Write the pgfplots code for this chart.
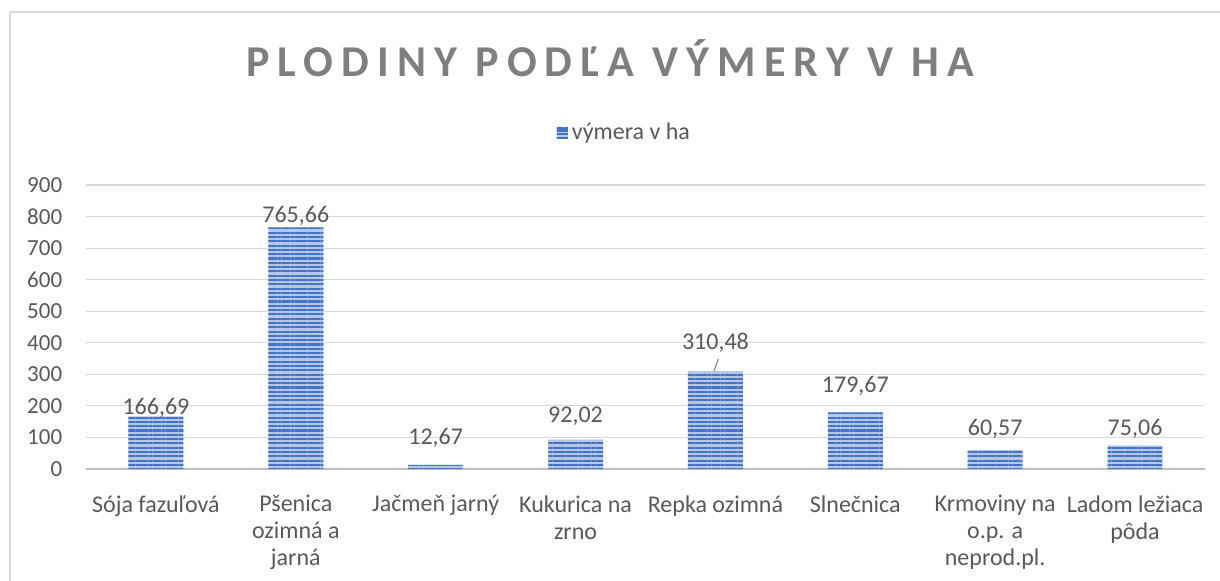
\documentclass[border=0pt]{standalone}
\usepackage{fontspec}
\setmainfont{Carlito}
\newfontfamily\titlefont[LetterSpace=18.5]{Carlito}
\usepackage{pgfplots}
\pgfplotsset{compat=1.18}
\usepackage{pgfplotstable}
\usetikzlibrary{patterns.meta}
\definecolor{txt}{HTML}{595959}
\definecolor{titlegray}{HTML}{7F7F7F}
\definecolor{gridgray}{HTML}{D9D9D9}
\definecolor{axisgray}{HTML}{BFBFBF}
\definecolor{barblue}{HTML}{4472C4}
\definecolor{barlight}{HTML}{B4C7E7}

\pgfplotstableread{
x y lab off
0 166.69 166,69 0.7
1 765.66 765,66 2.3
2 12.67 12,67 10
3 92.02 92,02 8.7
4 310.48 310,48 10.8
5 179.67 179,67 9.9
6 60.57 60,57 7.2
7 75.06 75,06 4.9
}\data

\begin{document}
\begin{tikzpicture}
\path[use as bounding box] (0,0) rectangle (610pt,290.5pt);
\draw[gridgray, line width=1pt] (5pt,0) -- (5pt,284.5pt) -- (610pt,284.5pt);
\node[anchor=base, text=titlegray, inner sep=0pt, font=\titlefont\bfseries\fontsize{22}{26}\selectfont] at (305pt,252.2pt) {PLODINY PODĽA VÝMERY V HA};
\begin{axis}[
  at={(43pt,56pt)}, anchor=south west,
  scale only axis, width=559.5pt, height=142pt,
  xmin=-0.5, xmax=7.5, ymin=0, ymax=900,
  ybar, bar width=27.5pt,
  xtick={0,...,7},
  xticklabels={{Sója fazuľová},{Pšenica\\ozimná a\\jarná},{Jačmeň jarný},{Kukurica na\\zrno},{Repka ozimná},{Slnečnica},{Krmoviny na\\o.p. a\\neprod.pl.},{Ladom ležiaca\\pôda}},
  ytick={0,100,...,900},
  ymajorgrids, grid style={draw=gridgray, line width=0.6pt},
  extra y ticks={0}, extra y tick labels={},
  extra y tick style={grid style={draw=axisgray, line width=1.3pt}},
  axis line style={draw=none},
  major tick length=0pt,
  /pgf/number format/assume math mode=true,
  tick label style={text=txt},
  yticklabel style={inner sep=0pt, anchor=east, xshift=-11.7pt, font=\fontsize{11.5}{13.5}\selectfont},
  xticklabel style={align=center, inner sep=0pt, anchor=north, yshift=-13pt, font=\fontsize{12}{13.5}\selectfont},
  nodes near coords, point meta=explicit symbolic,
  visualization depends on={\thisrow{off} \as \labofs},
  every node near coord/.append style={anchor=base, inner sep=0pt, yshift=\labofs pt, font=\fontsize{12}{14}\selectfont, text=txt},
  legend style={at={(0.482,1.183)}, anchor=center, draw=none, fill=none, font=\fontsize{12}{14}\selectfont, text=txt, inner sep=1pt},
  legend image code/.code={\fill[barlight] (0pt,-2.75pt) rectangle (5.5pt,2.75pt); \fill[pattern={Lines[angle=0,distance=1.8pt,line width=0.9pt]}, pattern color=barblue] (0pt,-2.75pt) rectangle (5.5pt,2.75pt);},
]
\addplot[draw=none, fill=barlight, postaction={pattern={Lines[angle=0,distance=2.15pt,line width=1.05pt]}, pattern color=barblue}] table[x=x, y=y, meta=lab] {\data};
\addlegendentry{výmera v ha}
\draw[txt!70, line width=0.6pt] (axis cs:3.99,310.48) -- (axis cs:4.02,348);
\end{axis}
\end{tikzpicture}
\end{document}
